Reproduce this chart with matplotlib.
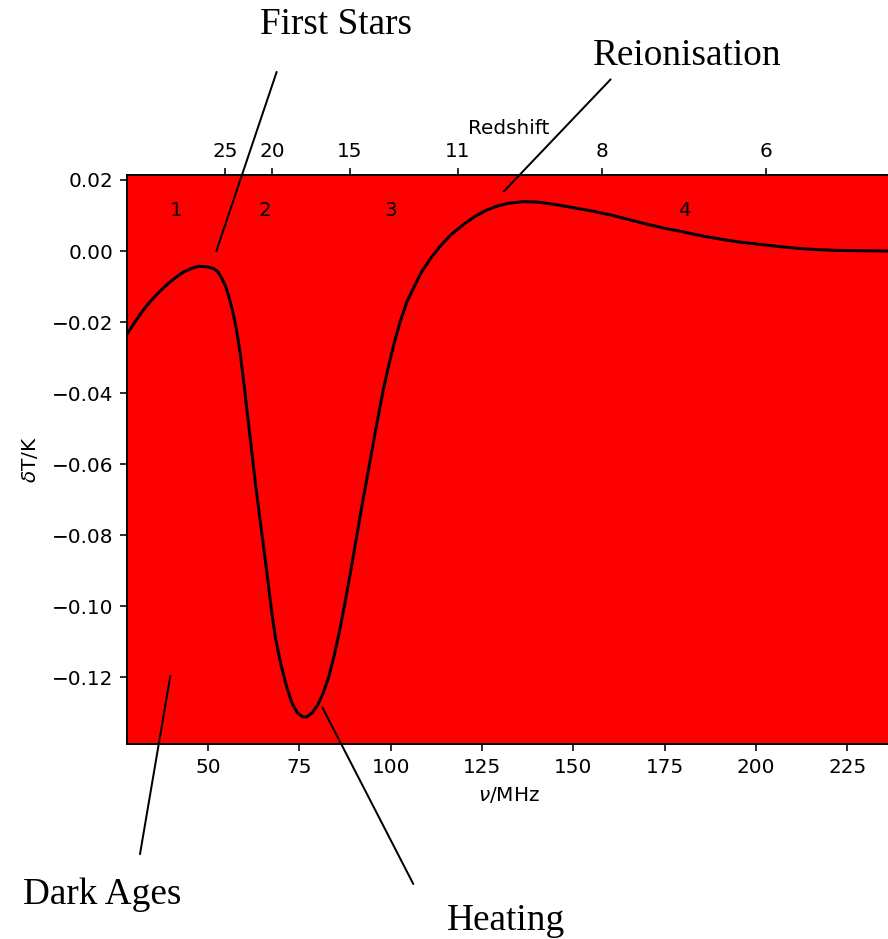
import matplotlib
matplotlib.use("Agg")
import matplotlib.pyplot as plt
import numpy as np

# Global 21-cm brightness temperature signal versus frequency
freq_mhz = [27.84, 30, 32, 34.15, 36, 38, 39.6, 41.5, 43.3, 45.5, 47.4, 49.5, 51.5,
            52.7, 53.8, 54.8, 55.6, 56.6, 57.5, 58.2, 58.85, 59.7, 60.7, 62.0, 63.0,
            64.0, 65.3, 66.5, 67.5, 68.5, 70.0, 71.5, 73.0, 74.5, 76.0, 77.0, 78.5,
            80.0, 81.5, 83.0, 84.5, 86.0, 87.5, 89.0, 90.5, 92.0, 93.5, 95.0, 96.5,
            98.0, 99.5, 101.0, 102.75, 104.5, 106.4, 108.5, 111.0, 113.5, 116.5,
            120.0, 123.0, 126.0, 129.0, 132.0, 136.0, 140.0, 145.0, 150.0, 155.0,
            160.0, 165.0, 170.0, 175.0, 180.5, 185.0, 190.0, 195.0, 200.0, 205.0,
            210.0, 215.0, 221.6, 228.0, 236.67]
delta_t = [-0.0234, -0.0200, -0.0170, -0.0143, -0.0122, -0.0102, -0.0087, -0.0072,
           -0.0059, -0.0049, -0.0043, -0.0044, -0.0049, -0.0058, -0.0077, -0.0098,
           -0.0124, -0.0163, -0.0205, -0.0245, -0.0290, -0.0360, -0.0450, -0.0565,
           -0.0655, -0.0735, -0.0838, -0.0935, -0.1020, -0.1090, -0.1165, -0.1225,
           -0.1272, -0.1300, -0.1311, -0.1311, -0.1300, -0.1278, -0.1245, -0.1200,
           -0.1140, -0.1070, -0.0990, -0.0905, -0.0815, -0.0725, -0.0640, -0.0555,
           -0.0470, -0.0390, -0.0320, -0.0258, -0.0194, -0.0142, -0.0101, -0.0058,
           -0.0020, 0.0013, 0.0046, 0.0075, 0.0097, 0.0114, 0.0126, 0.0134, 0.0139,
           0.0138, 0.0131, 0.0122, 0.0113, 0.0102, 0.0089, 0.0076, 0.0064, 0.0053,
           0.0043, 0.0034, 0.0026, 0.0020, 0.0014, 0.0009, 0.0005, 0.0002, 0.0001,
           0.0000]

redshift_ticks = [25, 20, 15, 11, 8, 6]
freq_ticks = [50, 75, 100, 125, 150, 175, 200, 225]
y_ticks = [0.02, 0.00, -0.02, -0.04, -0.06, -0.08, -0.10, -0.12]

phase_labels = ["1", "2", "3", "4"]
phase_freq = [41.3, 65.7, 100.0, 180.4]
phase_level = 0.01

# epoch name, text position (fig px, baseline), line start (data), line end (data)
epochs = ["First Stars", "Reionisation", "Heating", "Dark Ages"]
epoch_text_px = [(336.5, 34.3), (687.0, 65.0), (506.0, 930.0), (102.0, 904.0)]
epoch_line_from = [(68.8, 0.0504), (160.2, 0.0483), (106.2, -0.1781), (31.4, -0.1697)]
epoch_line_to = [(52.3, 0.0), (131.0, 0.0168), (81.3, -0.1284), (39.7, -0.1196)]

REST_FREQ = 1420.0  # MHz
W, H, DPI = 888, 939, 144

fig = plt.figure(figsize=(W / DPI, H / DPI), dpi=DPI)
left_px, right_px, top_px, bottom_px = 127.0, 890.0, 175.0, 744.3
ax = fig.add_axes([left_px / W, 1 - bottom_px / H,
                   (right_px - left_px) / W, (bottom_px - top_px) / H])
ax.set_facecolor("red")
ax.plot(freq_mhz, delta_t, color="black", lw=1.5)

ax.set_xlim(REST_FREQ / 51.0, REST_FREQ / 6.0)
ax.set_ylim(-0.1388, 0.0214)
ax.set_xticks(freq_ticks)
ax.set_yticks(y_ticks)
ax.set_xlabel(r"$\nu$/MHz")
ax.set_ylabel(r"$\delta$T/K", labelpad=6)

top = ax.twiny()
top.set_xlim(ax.get_xlim())
top.set_xticks([REST_FREQ / (1 + z) for z in redshift_ticks])
top.set_xticklabels([str(z) for z in redshift_ticks])
top.set_xlabel("Redshift")

for lab, f in zip(phase_labels, phase_freq):
    ax.text(f, phase_level, lab, ha="center", va="baseline", fontsize=10)

for name, (tx, ty), p0, p1 in zip(epochs, epoch_text_px, epoch_line_from, epoch_line_to):
    fig.text(tx / W, 1 - ty / H, name, ha="center", va="baseline",
             fontsize=18.6, family="Liberation Serif")
    ax.annotate("", xy=p1, xytext=p0, xycoords="data", textcoords="data",
                annotation_clip=False,
                arrowprops=dict(arrowstyle="-", lw=1.0, color="black",
                                shrinkA=0, shrinkB=0))

fig.savefig("out.png", dpi=DPI)
